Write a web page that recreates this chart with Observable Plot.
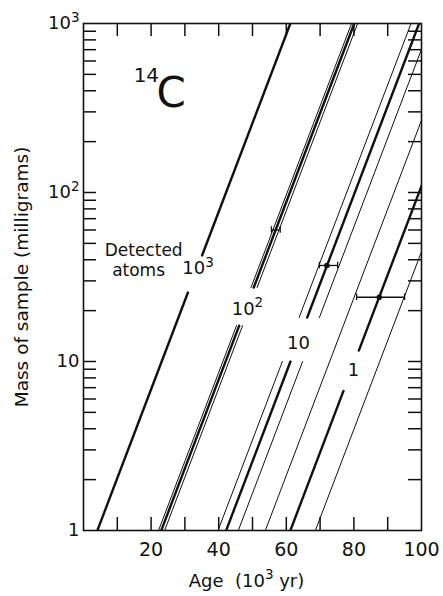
<!DOCTYPE html>
<html><head><meta charset="utf-8">
<script src="https://cdn.jsdelivr.net/npm/d3@7"></script>
<script src="https://cdn.jsdelivr.net/npm/@observablehq/plot@0.6"></script>
<style>body{margin:0;background:#fff}</style>
</head><body><div id="chart"></div>
<script>
// Each line: number of detected atoms, weight, age (10^3 yr) where it crosses 1 mg and 1000 mg
const lineGroup   = ["1000","100","100","100","10","10","10","1","1","1"];
const lineWeight  = ["thick","thin","thick","thin","thin","thick","thin","thin","thick","thin"];
const ageAt1mg    = [4.1, 22.2, 23.0, 24.0, 39.8, 42.2, 45.8, 53.8, 61.2, 68.6];
const ageAt1000mg = [61.2, 79.3, 80.1, 81.1, 96.9, 99.3, 102.9, 110.9, 118.3, 125.7];
// mass range (mg) where a line is interrupted by its label (null = unbroken)
const gapLo = [25.6, 16.3, 16.3, 16.3, 10, 10, 10, null, 6.7, null];
const gapHi = [42.4, 27.4, 27.4, 27.4, 18.2, 18.2, 18.2, null, 11.6, null];

// error bars
const errGroup = ["100","10","1"];
const errMass  = [60, 37, 24];
const errAge   = [56.8, 72.0, 87.5];
const errLo    = [55.6, 69.8, 80.8];
const errHi    = [58.2, 75.2, 95.0];
const errDot   = [false, true, true];

// axis ticks
const xTickLabels = [20, 40, 60, 80, 100];
const xTicks = [10, 20, 30, 40, 50, 60, 70, 80, 90];
const yTickValues = [1, 10, 100, 1000];
const yTickLabels = ["1", "10", "10²", "10³"];
const yMinor = [2,3,4,5,6,7,8,9,10,20,30,40,50,60,70,80,90,100,200,300,400,500,600,700,800,900];

// build line segments
const pts = [];
lineGroup.forEach((g, i) => {
  const a1 = ageAt1mg[i], a2 = ageAt1000mg[i];
  const ageAt = m => a1 + (a2 - a1) * Math.log10(m) / 3;
  const ranges = gapLo[i] == null ? [[1, 1000]] : [[1, gapLo[i]], [gapHi[i], 1000]];
  ranges.forEach((r, k) => {
    r.forEach(m => pts.push({id: i + "-" + k, w: lineWeight[i], x: ageAt(m), y: m}));
  });
});
const errs = errGroup.map((g, i) => ({g, m: errMass[i], c: errAge[i], lo: errLo[i], hi: errHi[i], dot: errDot[i]}));
const errEnds = errs.flatMap(e => [{x: e.lo, m1: e.m / 1.045, m2: e.m * 1.045}, {x: e.hi, m1: e.m / 1.045, m2: e.m * 1.045}]);
const yTickRows = yMinor.map(v => ({v}));
const xTickRows = xTicks.map(v => ({v}));

const W = 443, H = 596, ML = 83, MR = 22, MT = 23, MB = 66, TL = 13;
const font = "'DejaVu Sans', 'Open Sans', sans-serif";
const ink = "#111";
const chart = Plot.plot({
  width: W, height: H,
  marginLeft: ML, marginRight: MR, marginTop: MT, marginBottom: MB,
  style: {fontFamily: font, fontSize: "18px", color: ink, background: "#fff"},
  x: {domain: [0, 100]},
  y: {type: "log", domain: [1, 1000]},
  marks: [
    Plot.axisX({ticks: xTickLabels, tickSize: 0, tickPadding: 12, fontSize: 19, label: null}),
    Plot.axisY({ticks: yTickValues, tickFormat: d => yTickLabels[yTickValues.indexOf(d)], tickSize: 0, tickPadding: 4, fontSize: 18, label: null}),
    // lines
    Plot.line(pts.filter(d => d.w === "thin"), {x: "x", y: "y", z: "id", stroke: ink, strokeWidth: 1, clip: true}),
    Plot.line(pts.filter(d => d.w === "thick"), {x: "x", y: "y", z: "id", stroke: ink, strokeWidth: 2.4, clip: true}),
    // error bars
    Plot.ruleY(errs, {y: "m", x1: "lo", x2: "hi", stroke: ink, strokeWidth: 1.3}),
    Plot.ruleX(errEnds, {x: "x", y1: "m1", y2: "m2", stroke: ink, strokeWidth: 1.3}),
    Plot.dot(errs.filter(d => d.dot), {x: "c", y: "m", r: 2.8, fill: ink}),
    // labels
    Plot.text(["Detected"], {x: () => 17.8, y: () => 45.4, fontSize: 17}),
    Plot.text(["atoms"], {x: () => 16.3, y: () => 34.5, fontSize: 17}),
    Plot.text(["10³"], {x: () => 33.9, y: () => 35.5, fontSize: 18}),
    Plot.text(["10²"], {x: () => 48.5, y: () => 20.5, fontSize: 18}),
    Plot.text(["10"], {x: () => 63.6, y: () => 12.9, fontSize: 18}),
    Plot.text(["1"], {x: () => 79.9, y: () => 8.85, fontSize: 18}),
    Plot.text(["14"], {x: () => 18.6, y: () => 492, fontSize: 20, fontFamily: "'DejaVu Sans ExtraLight', 'DejaVu Sans', sans-serif"}),
    Plot.text(["C"], {x: () => 25.9, y: () => 385, fontSize: 42, fontFamily: "'DejaVu Sans ExtraLight', 'DejaVu Sans', sans-serif"}),
    // axis titles
    Plot.text(["Mass of sample (milligrams)"], {frameAnchor: "left", textAnchor: "middle", rotate: -90, dx: -61, fontSize: 18.5}),
    Plot.text(["Age  (10³ yr)"], {frameAnchor: "bottom", textAnchor: "middle", dy: 56, dx: -6, fontSize: 18}),
    Plot.frame({stroke: ink, strokeWidth: 1.6}),
    // inward frame ticks
    Plot.tickY(yTickRows, {y: "v", insetRight: W - ML - MR - TL, stroke: ink, strokeWidth: 1.5}),
    Plot.tickY(yTickRows, {y: "v", insetLeft: W - ML - MR - TL, stroke: ink, strokeWidth: 1.5}),
    Plot.tickX(xTickRows, {x: "v", insetTop: H - MT - MB - TL, stroke: ink, strokeWidth: 1.5}),
    Plot.tickX(xTickRows, {x: "v", insetBottom: H - MT - MB - TL, stroke: ink, strokeWidth: 1.5})
  ]
});
document.getElementById("chart").appendChild(chart);

// render ² and ³ as raised, smaller digits
const supMap = {"²": "2", "³": "3"};
chart.querySelectorAll("text").forEach(t => {
  if (t.children.length) return;
  const s = t.textContent;
  const m = s.match(/^(.*?)([²³])(.*)$/);
  if (!m) return;
  const fs = parseFloat(getComputedStyle(t).fontSize) || 18;
  const shift = fs * 0.42;
  t.textContent = "";
  const ns = "http://www.w3.org/2000/svg";
  const a = document.createElementNS(ns, "tspan"); a.textContent = m[1]; t.appendChild(a);
  const b = document.createElementNS(ns, "tspan"); b.textContent = supMap[m[2]];
  b.setAttribute("dy", -shift); b.setAttribute("font-size", fs * 0.75); t.appendChild(b);
  if (m[3]) {
    const c = document.createElementNS(ns, "tspan"); c.textContent = m[3];
    c.setAttribute("dy", shift); t.appendChild(c);
  }
});
</script>
</body></html>
